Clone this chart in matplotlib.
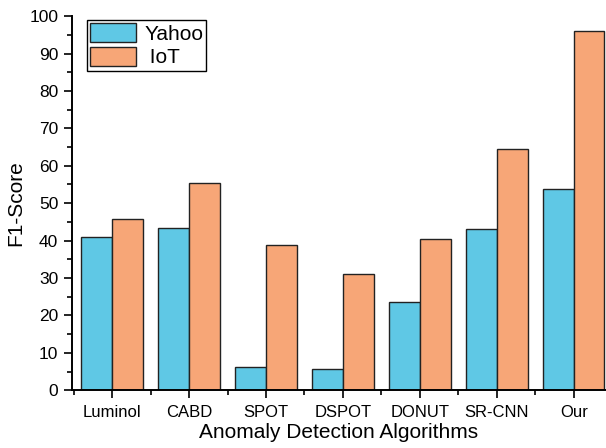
import numpy as np
import matplotlib.pyplot as plt
from matplotlib.ticker import MultipleLocator

plt.rcParams['font.family'] = ['Liberation Sans', 'DejaVu Sans']

algorithms = ['Luminol', 'CABD', 'SPOT', 'DSPOT', 'DONUT', 'SR-CNN', 'Our']
yahoo = [41.0, 43.4, 6.3, 5.8, 23.5, 43.1, 53.7]
iot = [45.7, 55.5, 38.9, 31.1, 40.5, 64.6, 96.0]

x = np.arange(len(algorithms))
w = 0.4

fig = plt.figure(figsize=(6.06, 4.48), dpi=100)
ax = fig.add_axes([0.119, 0.129, 0.881, 0.835])

ax.bar(x - w / 2, yahoo, w, color='#5fc8e5', edgecolor='#222222', lw=1, label='Yahoo')
ax.bar(x + w / 2, iot, w, color='#f7a677', edgecolor='#222222', lw=1, label=' IoT')

ax.set_xlim(-0.52, 6.42)
ax.set_ylim(0, 100)
ax.set_xticks(x)
ax.set_xticklabels(algorithms, fontsize=12)
ax.xaxis.set_minor_locator(MultipleLocator(1, offset=0.5))
ax.yaxis.set_major_locator(MultipleLocator(10))
ax.yaxis.set_minor_locator(MultipleLocator(5))
ax.tick_params(axis='y', labelsize=12.5, width=1.2, length=6, pad=4)
ax.tick_params(axis='x', width=1.2, length=6, pad=5)
ax.tick_params(which='minor', width=1.2, length=3.5)

for s in ['top', 'right']:
    ax.spines[s].set_visible(False)
for s in ['left', 'bottom']:
    ax.spines[s].set_linewidth(1.4)

ax.set_xlabel('Anomaly Detection Algorithms', fontsize=15, labelpad=2)
ax.set_ylabel('F1-Score', fontsize=15, labelpad=3)

ax.legend(loc='upper left', bbox_to_anchor=(0.02, 1.0), fontsize=15,
          fancybox=False, edgecolor='black', framealpha=1,
          handlelength=2.2, handleheight=1.0, borderpad=0.15,
          labelspacing=0.15, handletextpad=0.4, borderaxespad=0.2)

plt.savefig('out.png')
